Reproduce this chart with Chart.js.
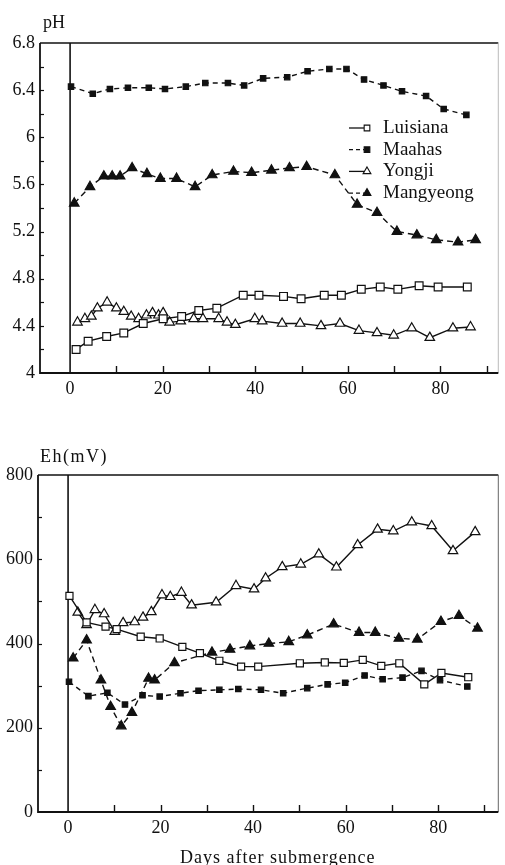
<!DOCTYPE html>
<html>
<head>
<meta charset="utf-8">
<script src="https://cdn.jsdelivr.net/npm/chart.js@4.4.1/dist/chart.umd.min.js"></script>
<style>
  html, body { margin: 0; padding: 0; background: #fff; }
  #wrap { position: relative; width: 505px; height: 865px; overflow: hidden;
          font-family: 'Liberation Serif', 'Times New Roman', serif; color: #111; }
  #wrap canvas { position: absolute; left: 0; }
  .lbl { position: absolute; font-size: 18px; line-height: 20px; white-space: nowrap; }
</style>
</head>
<body>
<div id="wrap">
  <canvas id="phChart" width="505" height="420" style="top:0"></canvas>
  <canvas id="ehChart" width="505" height="445" style="top:420px"></canvas>
  <div class="lbl" style="left:43px;top:12px;">pH</div>
  <div class="lbl" style="left:40px;top:446px;letter-spacing:1.5px;">Eh(mV)</div>
  <div class="lbl" style="left:180px;top:847px;letter-spacing:1px;">Days after submergence</div>
</div>
<script>
// ---- pH after submergence ----
const luisianaPhDays = [1.3, 3.9, 7.9, 11.6, 15.8, 20.1, 24.1, 27.8, 31.7, 37.4, 40.8, 46.1, 49.9, 54.9, 58.6, 62.9, 67, 70.8, 75.4, 79.5, 85.8];
const luisianaPh     = [4.2, 4.27, 4.31, 4.34, 4.42, 4.46, 4.48, 4.53, 4.55, 4.66, 4.66, 4.65, 4.63, 4.66, 4.66, 4.71, 4.73, 4.71, 4.74, 4.73, 4.73];

const maahasPhDays = [0.2, 4.9, 8.6, 12.5, 17, 20.5, 25, 29.2, 34.1, 37.6, 41.7, 46.9, 51.3, 56, 59.7, 63.5, 67.7, 71.7, 76.9, 80.7, 85.6];
const maahasPh     = [6.43, 6.37, 6.41, 6.42, 6.42, 6.41, 6.43, 6.46, 6.46, 6.44, 6.5, 6.51, 6.56, 6.58, 6.58, 6.49, 6.44, 6.39, 6.35, 6.24, 6.19];

const yongjiPhDays = [1.6, 3.2, 4.6, 5.9, 8, 10, 11.6, 13.2, 14.8, 16.5, 17.8, 19.1, 20.1, 21.5, 23.9, 26.7, 28.7, 32.1, 33.9, 35.7, 39.9, 41.5, 45.8, 49.7, 54.2, 58.3, 62.4, 66.3, 69.9, 73.8, 77.7, 82.7, 86.5];
const yongjiPh     = [4.43, 4.46, 4.48, 4.55, 4.6, 4.55, 4.52, 4.48, 4.46, 4.49, 4.51, 4.49, 4.51, 4.43, 4.44, 4.46, 4.46, 4.46, 4.43, 4.41, 4.46, 4.44, 4.42, 4.42, 4.4, 4.42, 4.36, 4.34, 4.32, 4.38, 4.3, 4.38, 4.39];

const mangyeongPhDays = [0.9, 4.3, 7.3, 9.1, 10.8, 13.4, 16.6, 19.5, 23, 27, 30.7, 35.3, 39.2, 43.5, 47.4, 51.1, 57.2, 62, 66.3, 70.6, 74.9, 79.1, 83.8, 87.6];
const mangyeongPh     = [5.44, 5.58, 5.67, 5.67, 5.67, 5.74, 5.69, 5.65, 5.65, 5.58, 5.68, 5.71, 5.7, 5.72, 5.74, 5.75, 5.68, 5.43, 5.36, 5.2, 5.17, 5.13, 5.11, 5.13];

// ---- Eh after submergence ----
const luisianaEhDays = [0.3, 4, 8.1, 10.5, 15.7, 19.8, 24.7, 28.5, 32.7, 37.4, 41.1, 50.1, 55.5, 59.6, 63.7, 67.7, 71.6, 77, 80.7, 86.5];
const luisianaEh     = [513, 450, 440, 434, 416, 412, 392, 377, 359, 345, 345, 353, 355, 354, 361, 347, 353, 303, 330, 320];

const maahasEhDays = [0.2, 4.4, 8.5, 12.3, 16.1, 19.8, 24.3, 28.2, 32.7, 36.8, 41.7, 46.5, 51.7, 56.1, 59.9, 64.1, 68, 72.3, 76.4, 80.4, 86.3];
const maahasEh     = [309, 275, 283, 255, 277, 274, 282, 288, 290, 292, 290, 282, 294, 303, 307, 324, 315, 319, 335, 313, 298];

const yongjiEhDays = [2.1, 4, 5.8, 7.8, 10.1, 11.9, 14.4, 16.2, 18, 20.3, 22.1, 24.5, 26.7, 32, 36.3, 40.2, 42.7, 46.3, 50.3, 54.2, 58, 62.6, 66.9, 70.3, 74.3, 78.6, 83.2, 88];
const yongjiEh     = [474, 444, 480, 470, 428, 449, 451, 462, 475, 515, 511, 521, 491, 498, 537, 529, 555, 582, 588, 612, 581, 634, 671, 667, 688, 679, 620, 665];

const mangyeongEhDays = [1.1, 4, 7.1, 9.2, 11.5, 13.8, 17.4, 18.7, 23, 31.1, 35, 39.3, 43.4, 47.7, 51.7, 57.4, 62.9, 66.4, 71.5, 75.5, 80.6, 84.5, 88.5];
const mangyeongEh     = [365, 408, 313, 250, 204, 236, 317, 313, 354, 379, 386, 394, 400, 404, 420, 446, 426, 426, 412, 410, 452, 466, 436];

// ---- axis ticks ----
const dayLabels = [0, 20, 40, 60, 80];
const dayMarks  = [10, 20, 30, 40, 50, 60, 70, 80, 90];
const phLabels  = [4, 4.4, 4.8, 5.2, 5.6, 6, 6.4, 6.8];
const phMarks   = [4.2, 4.4, 4.6, 4.8, 5, 5.2, 5.4, 5.6, 5.8, 6, 6.2, 6.4, 6.6];
const ehLabels  = [0, 200, 400, 600, 800];
const ehMarks   = [100, 200, 300, 400, 500, 600, 700];

const seriesNames = ['Luisiana', 'Maahas', 'Yongji', 'Mangyeong'];

Chart.defaults.font.family = "'Liberation Serif', 'Times New Roman', serif";
Chart.defaults.color = '#111';

const INK = '#111';

function pts(xs, ys) { return xs.map((x, i) => ({ x: x, y: ys[i] })); }

function makeDatasets(sets, small) {
  const styles = [
    { borderDash: [], pointStyle: 'rect', pointRadius: small ? 5 : 5.5, pointBackgroundColor: '#fff' },
    { borderDash: [5, 4], pointStyle: 'rect', pointRadius: 3.8, pointBackgroundColor: INK },
    { borderDash: [], pointStyle: 'triangle', pointRadius: 5.5, pointBackgroundColor: '#fff' },
    { borderDash: [6, 4], pointStyle: 'triangle', pointRadius: 5.5, pointBackgroundColor: INK }
  ];
  return sets.map((d, i) => Object.assign({
    label: seriesNames[i],
    data: d,
    borderColor: INK,
    borderWidth: 1.4,
    pointBorderColor: INK,
    pointBorderWidth: 1.2,
    tension: 0,
    fill: false
  }, styles[i]));
}

// axis frame, inward tick marks and the day-0 reference line
const framePlugin = {
  id: 'frame',
  beforeDatasetsDraw(chart, args, opts) {
    const { ctx, chartArea: a, scales } = chart;
    const x0 = scales.x.getPixelForValue(0);
    ctx.save();
    ctx.strokeStyle = INK;
    ctx.lineWidth = 1.6;
    ctx.beginPath(); ctx.moveTo(x0, a.top); ctx.lineTo(x0, a.bottom); ctx.stroke();
    ctx.restore();
  },
  afterDatasetsDraw(chart, args, opts) {
    const { ctx, chartArea: a, scales } = chart;
    ctx.save();
    ctx.strokeStyle = INK;
    // top border
    ctx.lineWidth = 1.3;
    ctx.beginPath(); ctx.moveTo(a.left, a.top); ctx.lineTo(a.right, a.top); ctx.stroke();
    // right border (faint)
    ctx.strokeStyle = opts.rightColor;
    ctx.lineWidth = 1;
    ctx.beginPath(); ctx.moveTo(a.right, a.top); ctx.lineTo(a.right, a.bottom); ctx.stroke();
    ctx.strokeStyle = INK;
    // left axis
    ctx.lineWidth = 1.8;
    ctx.beginPath(); ctx.moveTo(a.left, a.top); ctx.lineTo(a.left, a.bottom + 1); ctx.stroke();
    // bottom axis
    ctx.lineWidth = 2;
    ctx.beginPath(); ctx.moveTo(a.left, a.bottom); ctx.lineTo(a.right, a.bottom); ctx.stroke();
    // inward ticks
    ctx.lineWidth = 1.4;
    dayMarks.forEach(v => {
      const px = Math.round(scales.x.getPixelForValue(v)) + 0.5;
      ctx.beginPath(); ctx.moveTo(px, a.bottom); ctx.lineTo(px, a.bottom - 7); ctx.stroke();
    });
    ctx.lineWidth = 1.2;
    opts.yMarks.forEach(v => {
      const py = Math.round(scales.y.getPixelForValue(v)) + 0.5;
      ctx.beginPath(); ctx.moveTo(a.left, py); ctx.lineTo(a.left + 4, py); ctx.stroke();
    });
    ctx.restore();
  }
};

// legend with line sample + marker
const legendPlugin = {
  id: 'lineLegend',
  afterDraw(chart, args, opts) {
    if (!opts.show) return;
    const { ctx } = chart;
    ctx.save();
    chart.data.datasets.forEach((ds, i) => {
      const y = opts.top + i * opts.gap;
      ctx.strokeStyle = INK;
      ctx.lineWidth = 1.3;
      ctx.setLineDash(ds.borderDash && ds.borderDash.length ? [4, 3] : []);
      ctx.beginPath(); ctx.moveTo(opts.left, y); ctx.lineTo(opts.left + 15, y); ctx.stroke();
      ctx.setLineDash([]);
      ctx.fillStyle = ds.pointBackgroundColor;
      ctx.strokeStyle = INK;
      ctx.lineWidth = 1.1;
      Chart.helpers.drawPoint(ctx, { pointStyle: ds.pointStyle, radius: ds.pointStyle === 'rect' ? 4 : 4.5, rotation: 0, borderWidth: 1.1 },
        opts.left + 18, y);
      ctx.fillStyle = INK;
      ctx.font = "19px 'Liberation Serif', 'Times New Roman', serif";
      ctx.textBaseline = 'middle';
      ctx.textAlign = 'left';
      ctx.fillText(ds.label, opts.left + 34, y);
    });
    ctx.restore();
  }
};

function buildChart(id, cfg) {
  return new Chart(document.getElementById(id), {
    type: 'line',
    data: { datasets: cfg.datasets },
    plugins: [framePlugin, legendPlugin],
    options: {
      responsive: false,
      animation: false,
      layout: { padding: { top: cfg.padTop, right: 2, left: 0, bottom: 0 } },
      plugins: {
        legend: { display: false },
        tooltip: { enabled: false },
        frame: { yMarks: cfg.yMarks, rightColor: cfg.rightColor },
        lineLegend: cfg.legend
      },
      scales: {
        x: {
          type: 'linear', min: cfg.xMin, max: cfg.xMax,
          grid: { display: false, drawTicks: false },
          border: { display: false },
          afterBuildTicks: s => { s.ticks = dayLabels.map(v => ({ value: v })); },
          afterFit: s => { s.height = cfg.xHeight; },
          ticks: { padding: 5, font: { size: 18 }, color: INK, maxRotation: 0, autoSkip: false }
        },
        y: {
          type: 'linear', min: cfg.yMin, max: cfg.yMax,
          grid: { display: false, drawTicks: false },
          border: { display: false },
          afterBuildTicks: s => { s.ticks = cfg.yLabels.map(v => ({ value: v })); },
          afterFit: s => { s.width = cfg.yWidth; },
          ticks: { padding: 5, font: { size: 18 }, color: INK, autoSkip: false, callback: v => String(v) }
        }
      }
    }
  });
}

buildChart('phChart', {
  datasets: makeDatasets([
    pts(luisianaPhDays, luisianaPh),
    pts(maahasPhDays, maahasPh),
    pts(yongjiPhDays, yongjiPh),
    pts(mangyeongPhDays, mangyeongPh)
  ], false),
  padTop: 43, xHeight: 47, yWidth: 40,
  xMin: -6.5, xMax: 92.5, yMin: 4, yMax: 6.8,
  yLabels: phLabels, yMarks: phMarks, rightColor: '#bbb',
  legend: { show: true, left: 349, top: 128, gap: 21.7 }
});

buildChart('ehChart', {
  datasets: makeDatasets([
    pts(luisianaEhDays, luisianaEh),
    pts(maahasEhDays, maahasEh),
    pts(yongjiEhDays, yongjiEh),
    pts(mangyeongEhDays, mangyeongEh)
  ], true),
  padTop: 55, xHeight: 53, yWidth: 38,
  xMin: -6.5, xMax: 93, yMin: 0, yMax: 800,
  yLabels: ehLabels, yMarks: ehMarks, rightColor: '#666',
  legend: { show: false }
});
</script>
</body>
</html>
